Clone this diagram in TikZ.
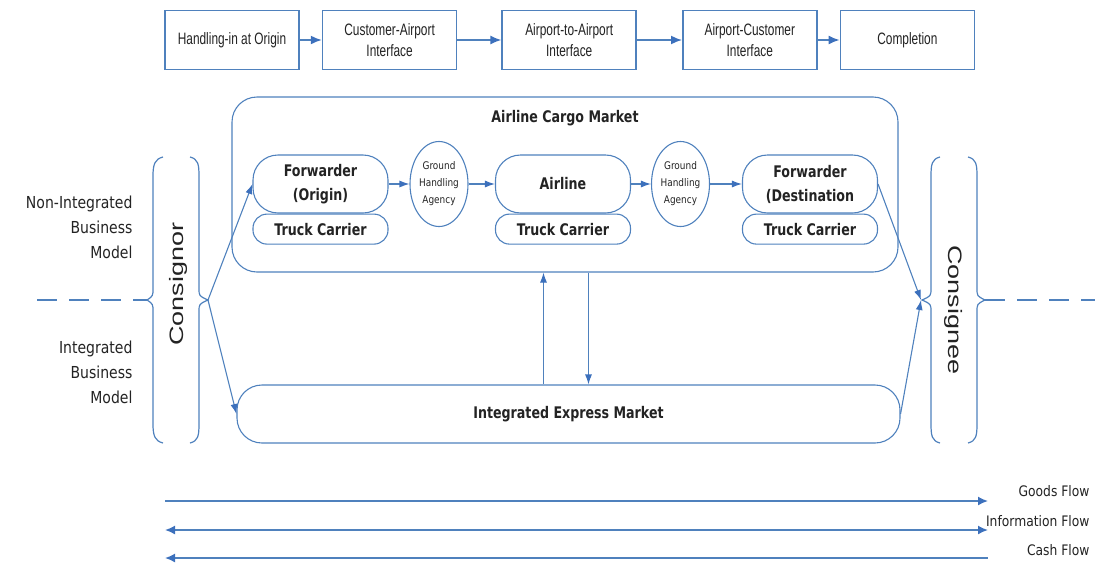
\documentclass[tikz,border=0pt]{standalone}
\usepackage{fontspec}
\setmainfont{Liberation Sans}
\newfontfamily\boxfont[FakeStretch=0.72]{Liberation Sans}
\newfontfamily\tahfont[FakeStretch=0.85]{DejaVu Sans}
\newfontfamily\tahbold[FakeStretch=0.79]{DejaVu Sans Bold}
\usetikzlibrary{positioning, shapes.geometric, arrows.meta}
\definecolor{lineblue}{RGB}{79,129,189}
\definecolor{tipblue}{RGB}{60,112,188}
\definecolor{txtgray}{RGB}{35,35,35}
\tikzstyle{stage}=[%
      rectangle, draw=lineblue, line width=1.6pt, fill=white,
      minimum height=59pt, minimum width=134pt, inner sep=2pt, align=center,
      font=\boxfont\fontsize{16.5}{21}\selectfont, text=txtgray
]
\tikzstyle{actor}=[%
      rectangle, rounded corners=25pt, draw=lineblue, line width=1.1pt,
      minimum height=58pt, minimum width=135pt, inner sep=2pt, align=center,
      font=\tahbold\fontsize{16}{24}\selectfont, text=txtgray
]
\tikzstyle{truck}=[%
      rectangle, rounded corners=14pt, draw=lineblue, line width=1.1pt,
      minimum height=30pt, minimum width=135pt, inner sep=2pt,
      font=\tahbold\fontsize{16}{18}\selectfont, text=txtgray
]
\tikzstyle{agency}=[%
      ellipse, draw=lineblue, line width=1.1pt,
      minimum height=85pt, minimum width=58pt, inner sep=0pt, align=center,
      font=\tahfont\fontsize{10.5}{17}\selectfont, text=txtgray
]
\tikzstyle{market}=[%
      rectangle, rounded corners=25pt, draw=lineblue, line width=1.1pt,
      font=\tahbold\fontsize{16}{18}\selectfont, text=txtgray
]
\tikzstyle{model}=[%
      anchor=east, align=right, text=txtgray,
      font=\tahfont\fontsize{16.5}{25}\selectfont
]
\tikzstyle{legend}=[%
      anchor=east, text=txtgray, font=\tahfont\fontsize{14.5}{17}\selectfont
]

\begin{document}
\begin{tikzpicture}[x=1pt, y=-1pt,
    arr/.style={draw=lineblue, line width=1.1pt, -{Latex[length=10pt,width=7pt,color=tipblue]}},
    wide/.style={draw=lineblue, line width=1.6pt},
    bracket/.style={draw=lineblue, line width=1.2pt},
    split/.style={draw=lineblue, line width=2.4pt, dash pattern=on 20pt off 12pt}
  ]
    \useasboundingbox (0,0) rectangle (1095,568);

    % process stages
    \node[stage]                          (handin)   at (232,40) {Handling-in at Origin};
    \node[stage, right=22pt of handin]    (custair)  {Customer-Airport\\Interface};
    \node[stage, right=44pt of custair]   (airair)   {Airport-to-Airport\\Interface};
    \node[stage, right=45pt of airair]    (aircust)  {Airport-Customer\\Interface};
    \node[stage, right=22pt of aircust]   (complete) {Completion};

    \path[wide, -{Latex[length=11pt,width=9pt,color=tipblue]}]
          (handin) edge (custair)
          (custair) edge (airair)
          (airair) edge (aircust)
          (aircust) edge (complete)
    ;

    % airline cargo market
    \node[market, minimum width=666pt, minimum height=175pt] (acm) at (565,184.5) {};
    \node[font=\tahbold\fontsize{16}{18}\selectfont, text=txtgray]
          (acmlabel) at (565,118) {Airline Cargo Market};

    \node[actor]                      (fwdo)    at (320.5,184) {Forwarder\\(Origin)};
    \node[truck, below=0pt of fwdo]   (trucko)  {Truck Carrier};
    \node[agency]                     (gha1)    at (439,184) {Ground\\Handling\\Agency};
    \node[actor]                      (airline) at (563,184) {Airline};
    \node[truck, below=0pt of airline] (trucka) {Truck Carrier};
    \node[agency]                     (gha2)    at (680.5,184) {Ground\\Handling\\Agency};
    \node[actor]                      (fwdd)    at (810,184) {Forwarder\\(Destination};
    \node[truck, below=0pt of fwdd]   (truckd)  {Truck Carrier};

    \path[arr]
          (fwdo) edge (gha1)
          (gha1) edge (airline)
          (airline) edge (gha2)
          (gha2) edge (fwdd)
    ;

    % integrated express market
    \node[market, minimum width=663pt, minimum height=58pt] (iem) at (568.5,414)
          {Integrated Express Market};

    \draw[arr] ([xshift=-25pt]iem.north) -- ([xshift=-25pt]iem.north |- acm.south);
    \draw[arr] ([xshift=20pt]iem.north |- acm.south) -- ([xshift=20pt]iem.north);

    % business model labels
    \node[model] (nonint) at (136,227) {Non-Integrated\\Business\\Model};
    \node[model] (integ)  at (136,372) {Integrated\\Business\\Model};

    % consignor
    \node[rotate=90, text=txtgray, font=\fontsize{27}{27}\selectfont]
          (consignor) at (178,284) {\scalebox{1}[0.72]{Consignor}};
    \draw[bracket] (163,157) .. controls (155,159) and (153,164) .. (153,176) -- (153,288)
          .. controls (153,296) .. (147,300) .. controls (153,304) .. (153,312) -- (153,424)
          .. controls (153,436) and (155,441) .. (163,443);
    \draw[bracket] (190,157) .. controls (198,159) and (199,164) .. (199,176) -- (199,288)
          .. controls (199,296) .. (208,300) .. controls (199,304) .. (199,312) -- (199,424)
          .. controls (199,436) and (198,441) .. (190,443);
    \coordinate (cnrtip) at (208,300);
    \draw[split] (37,300) -- (147,300);

    % consignee
    \node[rotate=-90, text=txtgray, font=\fontsize{27}{27}\selectfont]
          (consignee) at (954,310) {\scalebox{1}[0.72]{Consignee}};
    \draw[bracket] (940,157) .. controls (932,159) and (931,164) .. (931,176) -- (931,288)
          .. controls (931,296) .. (922,300) .. controls (931,304) .. (931,312) -- (931,424)
          .. controls (931,436) and (932,441) .. (940,443);
    \draw[bracket] (968,157) .. controls (976,159) and (977,164) .. (977,176) -- (977,288)
          .. controls (977,296) .. (985,300) .. controls (977,304) .. (977,312) -- (977,424)
          .. controls (977,436) and (976,441) .. (968,443);
    \coordinate (cnetip) at (921,300);
    \draw[split] (985,300) -- (1095,300);

    \draw[arr] (cnrtip) -- (fwdo.west);
    \draw[arr] (cnrtip) -- (iem.west);
    \draw[arr] (fwdd.east) -- (cnetip);
    \draw[arr] (iem.east) -- (cnetip);

    % flows
    \node[legend] (goods) at (1093,491) {Goods Flow};
    \node[legend] (info)  at (1093,521) {Information Flow};
    \node[legend] (cash)  at (1093,550) {Cash Flow};
    \coordinate (gs) at (165,501);  \coordinate (ge) at (988,501);
    \coordinate (is) at (165,530);  \coordinate (ie) at (988,530);
    \coordinate (cs) at (165,558);  \coordinate (ce) at (988,558);
    \draw[wide, -{Latex[length=10pt,width=9pt,color=tipblue]}] (gs) -- (ge);
    \draw[wide, {Latex[length=10pt,width=9pt,color=tipblue]}-{Latex[length=10pt,width=9pt,color=tipblue]}] (is) -- (ie);
    \draw[wide, {Latex[length=10pt,width=9pt,color=tipblue]}-] (cs) -- (ce);

  \end{tikzpicture}
\end{document}
